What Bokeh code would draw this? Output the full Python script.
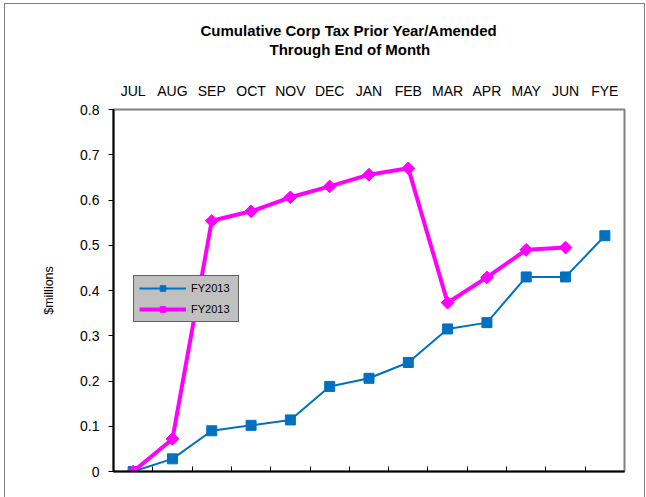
from bokeh.plotting import figure
from bokeh.models import (Range1d, LinearAxis, FixedTicker, Legend, LegendItem, Title)
from bokeh.embed import file_html
from bokeh.resources import INLINE

# ---- data ----
months = ["JUL", "AUG", "SEP", "OCT", "NOV", "DEC", "JAN", "FEB", "MAR", "APR", "MAY", "JUN", "FYE"]
fy_blue = [0.0, 0.028, 0.090, 0.102, 0.114, 0.188, 0.206, 0.241, 0.315, 0.329, 0.430, 0.430, 0.521]
fy_magenta = [0.0, 0.072, 0.554, 0.575, 0.606, 0.630, 0.656, 0.670, 0.373, 0.429, 0.490, 0.495]
series_labels = ["FY2013", "FY2013"]
y_ticks = [0.0, 0.1, 0.2, 0.3, 0.4, 0.5, 0.6, 0.7, 0.8]
y_tick_labels = ["0", "0.1", "0.2", "0.3", "0.4", "0.5", "0.6", "0.7", "0.8"]
title_lines = ["Cumulative Corp Tax Prior Year/Amended", "Through End of Month"]
y_label = "$millions"

FONT = "Liberation Sans"
BLUE = "#0070C0"
MAGENTA = "#FF00FF"

x_idx = list(range(len(months)))
xb = x_idx[:len(fy_blue)]
xm = x_idx[:len(fy_magenta)]

p = figure(width=646, height=497, output_backend="svg", toolbar_location=None,
           x_axis_type=None, y_axis_type=None,
           x_range=Range1d(-0.5, len(months) - 0.5), y_range=Range1d(0, 0.8),
           min_border_left=113, min_border_right=22, min_border_top=109, min_border_bottom=26)
p.xgrid.visible = False
p.ygrid.visible = False
p.outline_line_color = "#808080"
p.outline_line_width = 2
p.background_fill_color = "white"
p.border_fill_color = None
# outer chart frame (decorative, drawn by the page behind the transparent border area)
p.styles = {"background-color": "white",
            "box-shadow": "inset 4px 0 0 0 #ffffff, inset 0 3px 0 0 #ffffff, inset -1px 0 0 0 #ffffff, "
                          "inset 5px 0 0 0 #808080, inset 0 4px 0 0 #808080, inset -2px 0 0 0 #808080"}

# bottom axis: ticks at category boundaries, pointing inward, no labels
bounds = [i + 0.5 for i in range(len(months) - 1)]
bottom = LinearAxis(ticker=FixedTicker(ticks=bounds),
                    major_label_overrides={b: "" for b in bounds},
                    major_tick_in=5, major_tick_out=0,
                    major_tick_line_color="black", major_tick_line_width=1,
                    minor_tick_line_color=None,
                    axis_line_color="black", axis_line_width=2,
                    major_label_text_font_size="1px")
p.add_layout(bottom, "below")

# top axis: month labels
top = LinearAxis(ticker=FixedTicker(ticks=x_idx),
                 major_label_overrides={i: m for i, m in zip(x_idx, months)},
                 major_tick_in=0, major_tick_out=0,
                 major_tick_line_color=None, minor_tick_line_color=None,
                 axis_line_color=None, major_label_standoff=11,
                 major_label_text_font=FONT, major_label_text_font_size="14px",
                 major_label_text_color="black")
p.add_layout(top, "above")

# empty spacer between month labels and title (invisible tick only)
spacer = LinearAxis(ticker=FixedTicker(ticks=[x_idx[0]]), major_label_overrides={x_idx[0]: ""},
                    major_tick_in=0, major_tick_out=22,
                    major_tick_line_color=None, minor_tick_line_color=None,
                    axis_line_color=None, major_label_standoff=0,
                    major_label_text_font_size="0px")
p.add_layout(spacer, "above")

# left axis
left = LinearAxis(ticker=FixedTicker(ticks=y_ticks),
                  major_label_overrides={t: l for t, l in zip(y_ticks, y_tick_labels)},
                  major_tick_in=0, major_tick_out=5,
                  major_tick_line_color="black", major_tick_line_width=1,
                  minor_tick_line_color=None,
                  axis_line_color="black", axis_line_width=2,
                  major_label_standoff=9,
                  major_label_text_font=FONT, major_label_text_font_size="14px",
                  major_label_text_color="black",
                  axis_label=y_label, axis_label_standoff=21,
                  axis_label_text_font=FONT, axis_label_text_font_size="12.5px",
                  axis_label_text_font_style="normal", axis_label_text_color="black")
p.add_layout(left, "left")

# titles
t2 = Title(text=title_lines[1], align="left", offset=156, standoff=0,
           text_font=FONT, text_font_size="15px", text_font_style="bold", text_color="black")
t1 = Title(text=title_lines[0], align="left", offset=87, standoff=0,
           text_font=FONT, text_font_size="15px", text_font_style="bold", text_color="black")
p.add_layout(t2, "above")
p.add_layout(t1, "above")

# series
l1 = p.line(xb, fy_blue, line_color=BLUE, line_width=2)
s1 = p.scatter(xb, fy_blue, marker="square", size=10, fill_color=BLUE, line_color=BLUE)
l2 = p.line(xm, fy_magenta, line_color=MAGENTA, line_width=4)
s2 = p.scatter(xm, fy_magenta, marker="square", angle=0.785398, size=9,
               fill_color=MAGENTA, line_color=MAGENTA)

legend = Legend(items=[LegendItem(label=series_labels[0], renderers=[l1, s1]),
                       LegendItem(label=series_labels[1], renderers=[l2, s2])],
                location=(20, 149), padding=5, spacing=7,
                glyph_width=47, glyph_height=14, label_height=14, label_width=42,
                label_standoff=5, label_text_font=FONT, label_text_font_size="11px",
                label_text_color="black",
                background_fill_color="#C0C0C0", background_fill_alpha=1,
                border_line_color="black", border_line_width=1, margin=0)
p.add_layout(legend, "center")

open("out.html", "w").write(file_html(p, INLINE))
